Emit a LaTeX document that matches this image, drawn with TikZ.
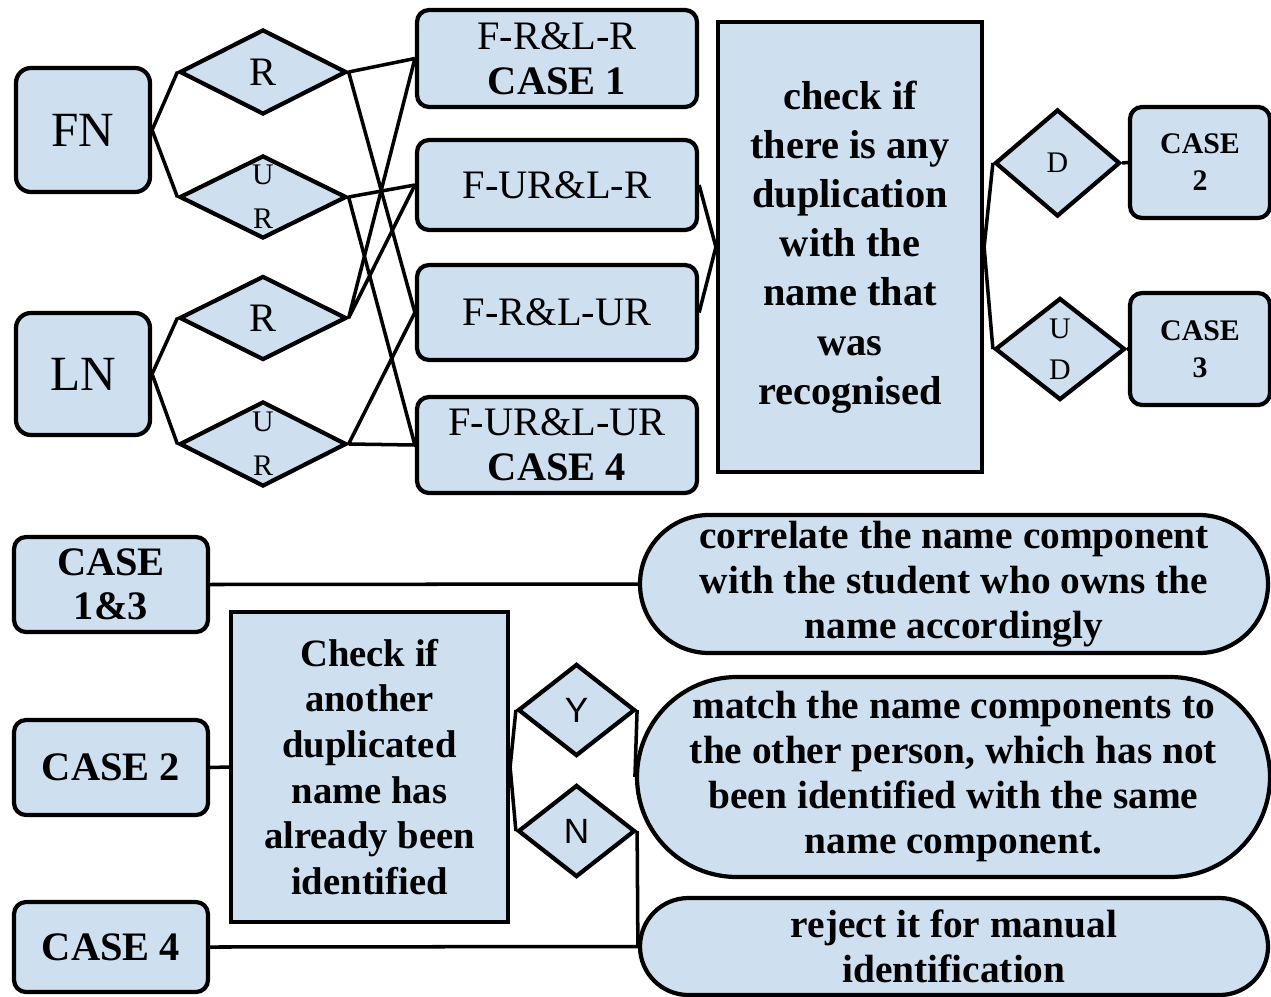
\documentclass[tikz,border=0pt]{standalone}
\usepackage{fontspec}
\setmainfont{Liberation Serif}
\newfontfamily\sansyn{Liberation Sans}
\usetikzlibrary{shapes.geometric,shapes.misc}

\begin{document}
\begin{tikzpicture}[line width=1pt, font=\fontsize{11.5}{12.8}\selectfont,
    namebox/.style={draw, line width=1.2pt, fill=celeste, rounded corners=0.15cm, inner sep=0pt, align=center},
    casebox/.style={draw, line width=1.2pt, fill=celeste, rounded corners=0.12cm, inner sep=0pt, align=center},
    rombo/.style={draw, line width=1.2pt, fill=celeste, diamond, aspect=2, inner sep=0pt},
    smallab/.style={align=center, font=\fontsize{8.5}{12.5}\selectfont},
    bigbox/.style={draw, line width=1.2pt, fill=celeste, inner sep=0pt, align=center, font=\fontsize{11.5}{14}\selectfont\bfseries},
    pill/.style={draw, line width=1.2pt, fill=celeste, rounded rectangle, inner sep=0pt, align=center, font=\fontsize{11.2}{12.8}\selectfont\bfseries}]

    % Colori
    \definecolor{celeste}{RGB}{206,223,240}

    \useasboundingbox (0,0) rectangle (12.71,-9.96);

    % Nome e cognome
    \node[namebox, minimum width=1.34cm, minimum height=1.24cm, font=\fontsize{14}{16}\selectfont] (fn) at (0.83,-1.30) {FN};
    \node[namebox, minimum width=1.34cm, minimum height=1.22cm, font=\fontsize{14}{16}\selectfont] (ln) at (0.83,-3.74) {LN};

    % Rombi R / UR
    \node[rombo, minimum width=1.67cm, minimum height=0.85cm, font=\fontsize{11.5}{13}\selectfont] (rf) at (2.63,-0.72) {R};
    \node[rombo, minimum width=1.67cm, minimum height=0.83cm, label={[smallab]center:{U\\R}}] (urf) at (2.63,-1.97) {};
    \node[rombo, minimum width=1.67cm, minimum height=0.84cm, font=\fontsize{11.5}{13}\selectfont] (rl) at (2.63,-3.18) {R};
    \node[rombo, minimum width=1.67cm, minimum height=0.85cm, label={[smallab]center:{U\\R}}] (url) at (2.63,-4.44) {};

    % Combinazioni
    \node[casebox, minimum width=2.80cm, minimum height=0.97cm] (c1) at (5.57,-0.585) {F-R\&L-R\\{\bfseries CASE 1}};
    \node[casebox, minimum width=2.80cm, minimum height=0.90cm] (c2) at (5.57,-1.85) {F-UR\&L-R};
    \node[casebox, minimum width=2.80cm, minimum height=0.95cm] (c3) at (5.57,-3.125) {F-R\&L-UR};
    \node[casebox, minimum width=2.80cm, minimum height=0.96cm] (c4) at (5.57,-4.45) {F-UR\&L-UR\\{\bfseries CASE 4}};

    % Controllo duplicati
    \node[bigbox, minimum width=2.64cm, minimum height=4.50cm] (chk) at (8.50,-2.47) {check if\\there is any\\duplication\\with the\\name that\\was\\recognised};

    \node[rombo, minimum width=1.25cm, minimum height=1.07cm, font=\fontsize{8.5}{10}\selectfont] (d) at (10.575,-1.63) {D};
    \node[rombo, minimum width=1.30cm, minimum height=1.02cm, label={[smallab, font=\fontsize{8.5}{11.7}\selectfont]center:{U\\D}}] (ud) at (10.60,-3.49) {};
    \node[casebox, minimum width=1.40cm, minimum height=1.11cm, font=\fontsize{8.5}{10.5}\selectfont\bfseries] (cs2a) at (12.00,-1.625) {CASE\\2};
    \node[casebox, minimum width=1.40cm, minimum height=1.12cm, font=\fontsize{8.5}{10.5}\selectfont\bfseries] (cs3) at (12.00,-3.49) {CASE\\3};

    % Parte inferiore
    \node[casebox, minimum width=1.94cm, minimum height=0.95cm, font=\fontsize{11.5}{12.5}\selectfont\bfseries] (c13) at (1.11,-5.845) {CASE\\1\&3};
    \node[casebox, minimum width=1.94cm, minimum height=0.95cm, font=\fontsize{11.5}{12.5}\selectfont\bfseries] (cs2) at (1.11,-7.675) {CASE 2};
    \node[casebox, minimum width=1.94cm, minimum height=0.90cm, font=\fontsize{11.5}{12.5}\selectfont\bfseries] (cs4) at (1.11,-9.47) {CASE 4};

    \node[bigbox, minimum width=2.77cm, minimum height=3.10cm, font=\fontsize{11}{13}\selectfont\bfseries] (chk2) at (3.695,-7.67) {Check if\\another\\duplicated\\name has\\already been\\identified};

    \node[rombo, minimum width=1.17cm, minimum height=0.92cm, font=\fontsize{10}{12}\sansyn] (yes) at (5.765,-7.10) {Y};
    \node[rombo, minimum width=1.17cm, minimum height=0.92cm, font=\fontsize{10}{12}\sansyn] (no) at (5.765,-8.31) {N};

    \node[pill, minimum width=6.28cm, minimum height=1.38cm] (corr) at (9.54,-5.84) {correlate the name component\\with the student who owns the\\name accordingly};
    \node[pill, minimum width=6.33cm, minimum height=2.00cm] (match) at (9.535,-7.77) {match the name components to\\the other person, which has not\\been identified with the same\\name component.};
    \node[pill, minimum width=6.28cm, minimum height=0.97cm] (rej) at (9.54,-9.465) {reject it for manual\\identification};

    % Collegamenti
    \draw (fn.east) -- (rf.west) (fn.east) -- (urf.west);
    \draw (ln.east) -- (rl.west) (ln.east) -- (url.west);
    \draw (rf.east) -- (c1.west) (rf.east) -- (c3.west);
    \draw (urf.east) -- (c2.west) (urf.east) -- (c4.west);
    \draw (rl.east) -- (c1.west) (rl.east) -- (c2.west);
    \draw (url.east) -- (c3.west) (url.east) -- (c4.west);
    \draw (c2.east) -- (chk.west) (c3.east) -- (chk.west);
    \draw (chk.east) -- (d.west) (chk.east) -- (ud.west);
    \draw (d.east) -- (cs2a.west);
    \draw (ud.east) -- (cs3.west);

    \draw (c13.east) -- (corr.west);
    \draw (cs2.east) -- (chk2.west);
    \draw (cs4.east) -- (rej.west);
    \draw (chk2.east) -- (yes.west) (chk2.east) -- (no.west);
    \draw (yes.east) -- (match.west);
    \draw (no.east) -- (rej.west);

\end{tikzpicture}
\end{document}
